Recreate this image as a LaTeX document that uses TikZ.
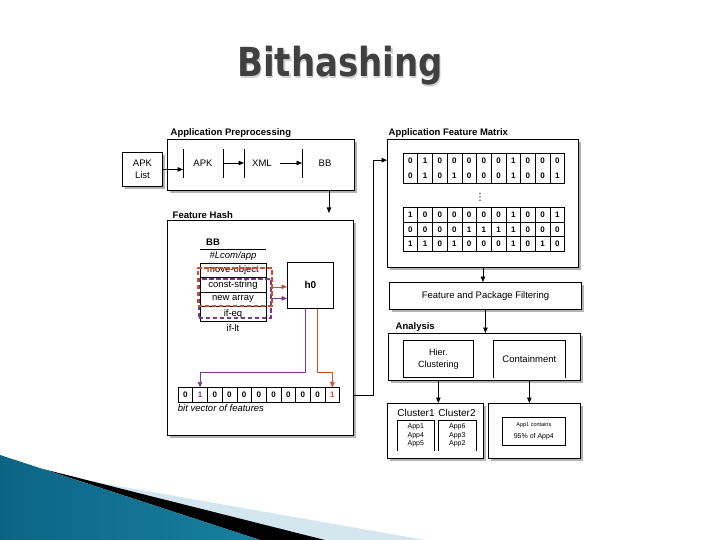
\documentclass[tikz,border=0pt]{standalone}
\usepackage{fontspec}
\setmainfont{Liberation Sans}
\newfontfamily\titlefont{DejaVu Sans}
\usepackage{tikz}
\usetikzlibrary{positioning,arrows.meta,calc,shadows}
\definecolor{TitleGray}{RGB}{64,64,64}
\definecolor{WinRed}{RGB}{214,74,44}
\definecolor{WinPurple}{RGB}{122,56,140}
\definecolor{DeckTeal}{RGB}{12,100,132}
\definecolor{DeckTealLight}{RGB}{76,170,204}
\definecolor{DeckTealMid}{RGB}{24,128,160}
\definecolor{DeckIce}{RGB}{212,231,238}
\tikzset{
    panel/.style={draw, line width=0.9pt, fill=white, inner sep=0pt, anchor=north west,
        drop shadow={shadow xshift=3pt, shadow yshift=-3pt, opacity=0.6}},
    tag/.style={font=\bfseries\fontsize{9.5}{11}\selectfont, anchor=south west, inner sep=1.5pt},
    txt/.style={font=\fontsize{9.5}{12}\selectfont},
    flow/.style={-{Triangle[length=5.5pt,width=4.5pt]}, line width=0.7pt},
    bitcell/.style={draw, line width=0.6pt, minimum width=14.7pt, minimum height=14.5pt,
        inner sep=0pt, font=\bfseries\fontsize{8}{15}\selectfont},
    oprow/.style={draw, line width=0.6pt, minimum width=66pt, minimum height=14.5pt,
        inner sep=0pt, font=\fontsize{9.5}{11}\selectfont},
    window/.style={draw, line width=1.7pt, dash pattern=on 4.5pt off 2.5pt, inner sep=0pt, anchor=north west},
    inbox/.style={line width=0.7pt, inner sep=0pt, anchor=north west},
}
\newcommand{\bitrow}[4]{%
    \foreach \b [count=\i] in {#4}
        \node[bitcell] (#1-\i) at ({#2+(\i-0.5)*14.7},#3) {\b};
}

\begin{document}
\begin{tikzpicture}[x=1pt,y=-1pt]
    \useasboundingbox (0,0) rectangle (720,540);
    \fill[DeckIce] (90,481) -- (425,540) -- (325,540) -- cycle;
    \fill[black] (43,469) -- (325,540) -- (260,540) -- cycle;
    \shade[left color=DeckTeal, middle color=DeckTealLight, right color=DeckTealMid]
        (0,455) -- (260,540) -- (0,540) -- cycle;

    \node[font=\titlefont\bfseries\fontsize{40}{40}\selectfont, text=black!18, anchor=base] (titleShade) at (341.5,78.5) {\scalebox{0.85}[1]{Bithashing}};
    \node[font=\titlefont\bfseries\fontsize{40}{40}\selectfont, text=TitleGray, anchor=base] (title) at (340,77) {\scalebox{0.85}[1]{Bithashing}};

    % preprocessing
    \node[panel, minimum width=40pt, minimum height=34pt, align=center, font=\fontsize{9.5}{12}\selectfont] (apklist) at (122,152) {APK\\List};
    \node[panel, minimum width=187pt, minimum height=51pt] (prep) at (167,139) {};
    \node[tag] (prepTag) at ($(prep.north west)+(2,0)$) {Application Preprocessing};
    \foreach \x [count=\i] in {183,223,244,302} {
        \coordinate (bar\i) at (\x,163);
        \draw[line width=0.7pt] (\x,149) -- (\x,178);
    }
    \node[txt] (apk) at (203,163) {APK};
    \node[txt] (xml) at (262,163) {XML};
    \node[txt] (bb) at (325,163) {BB};
    \draw[flow] (apklist.east) -- (apklist.east -| bar1);
    \draw[flow] (bar2) -- (bar3);
    \draw[flow, shorten <=5pt] (xml) -- (bar4);

    % feature hash
    \node[panel, minimum width=186pt, minimum height=215pt] (hash) at (167,220) {};
    \node[tag] (hashTag) at ($(hash.north west)+(4,0)$) {Feature Hash};
    \coordinate (drop) at (329,0);
    \draw[flow, shorten >=7pt] (prep.south -| drop) -- (hash.north -| drop);
    \node[font=\bfseries\fontsize{9.5}{11}\selectfont] (bbHead) at (213,242) {BB};
    \draw[line width=0.6pt] (200,249) -- (266,249);
    \node[font=\itshape\fontsize{9.5}{11}\selectfont] (pkg) at (233,256) {\#Lcom/app};
    \draw[line width=0.6pt] (200,263) -- (266,263);
    \foreach \op [count=\i] in {move-object,const-string,new array,if-eq}
        \node[oprow] (op\i) at (233,{263+(\i-0.5)*14.5}) {\op};
    \node[txt] (op5) at (233,328) {if-lt};
    \node[window, WinPurple, minimum width=72pt, minimum height=39pt] (winB) at (198,278) {};
    \node[window, WinRed, minimum width=74pt, minimum height=38pt] (winA) at (197,267) {};
    \node[draw, line width=0.7pt, minimum width=46pt, minimum height=46pt, anchor=north west,
        font=\bfseries\fontsize{10}{12}\selectfont] (h0) at (287,262) {h0};
    \draw[flow, WinRed] (winA.east) -- (winA.east -| h0.west);
    \draw[flow, WinPurple] (winB.east) -- (winB.east -| h0.west);
    \bitrow{bit}{178}{395}{0,{\color{WinPurple}1},0,0,0,0,0,0,0,0,{\color{WinRed}1}}
    \draw[flow, WinPurple] ($(h0.south)+(-5,0)$) -- ++(0,64) -| (bit-2.north);
    \draw[flow, WinRed] ($(h0.south)+(7,0)$) -- ++(0,64) -| (bit-11.north);
    \node[font=\itshape\fontsize{9.5}{11}\selectfont, anchor=north west, inner sep=0pt] (bitCap) at ($(bit-1.south west)+(0,2)$) {bit vector of features};

    % feature matrix
    \node[panel, minimum width=191pt, minimum height=128pt] (matrix) at (387,139) {};
    \node[tag] (matrixTag) at (matrix.north west) {Application Feature Matrix};
    \foreach \p/\q [count=\i] in {0/0,1/1,0/0,0/1,0/0,0/0,0/0,1/1,0/0,0/0,0/1}
        \node[bitcell, minimum height=30pt, align=center] (top-\i) at ({403+(\i-0.5)*14.7},168) {\p\\\q};
    \node[font=\titlefont\fontsize{10}{12}\selectfont] (dots) at (480,197) {⋮};
    \bitrow{rowA}{403}{215}{1,0,0,0,0,0,0,1,0,0,1}
    \bitrow{rowB}{403}{229.5}{0,0,0,0,1,1,1,1,0,0,0}
    \bitrow{rowC}{403}{244}{1,1,0,1,0,0,0,1,0,1,0}
    \coordinate (row1) at ($(top-1.north)+(0,7.5)$);
    \draw[flow] (hash.east |- bit-11) -- ++(19,0) |- (matrix.west |- row1);

    % filtering and analysis
    \node[panel, minimum width=192pt, minimum height=27pt, txt] (filter) at (389,282) {Feature and Package Filtering};
    \draw[flow] (matrix.south) -- (matrix.south |- filter.north);
    \node[panel, minimum width=192pt, minimum height=47pt] (analysis) at (388,333) {};
    \node[tag] (analysisTag) at ($(analysis.north west)+(6,0)$) {Analysis};
    \draw[flow] (filter.south) -- (filter.south |- analysis.north);
    \node[inbox, draw, minimum width=70pt, minimum height=37pt, align=center, font=\fontsize{9}{12}\selectfont] (hier) at (403,340) {Hier.\\Clustering};
    \node[inbox, minimum width=72pt, minimum height=37pt, txt] (contain) at (493,340) {Containment};
    \draw[line width=0.7pt] (contain.south west) |- (contain.north east) -- (contain.south east);

    % results
    \node[panel, minimum width=96pt, minimum height=55pt] (clusters) at (387,403) {};
    \node[panel, minimum width=92pt, minimum height=55pt] (result) at (488,403) {};
    \draw[flow] (hier.south |- analysis.south) -- (hier.south |- clusters.north);
    \draw[flow] (contain.south |- analysis.south) -- (contain.south |- result.north);
    \node[font=\fontsize{10}{12}\selectfont] (c1Head) at (416,413) {Cluster1};
    \node[font=\fontsize{10}{12}\selectfont] (c2Head) at (457,413) {Cluster2};
    \node[inbox, minimum width=37pt, minimum height=30pt, align=center, font=\fontsize{7}{8.3}\selectfont] (c1List) at (397,420) {App1\\App4\\App5};
    \node[inbox, minimum width=38pt, minimum height=30pt, align=center, font=\fontsize{7}{8.3}\selectfont] (c2List) at (438,420) {App6\\App3\\App2};
    \draw[line width=0.7pt] (c1List.south west) |- (c1List.north east) -- (c1List.south east);
    \draw[line width=0.7pt] (c2List.south west) |- (c2List.north east) -- (c2List.south east);
    \node[inbox, draw, minimum width=63pt, minimum height=28pt, align=center] (note) at (502,417)
        {{\fontsize{5.5}{7}\selectfont App1 contains}\\{\fontsize{7}{9}\selectfont 95\% of App4}};
\end{tikzpicture}
\end{document}
